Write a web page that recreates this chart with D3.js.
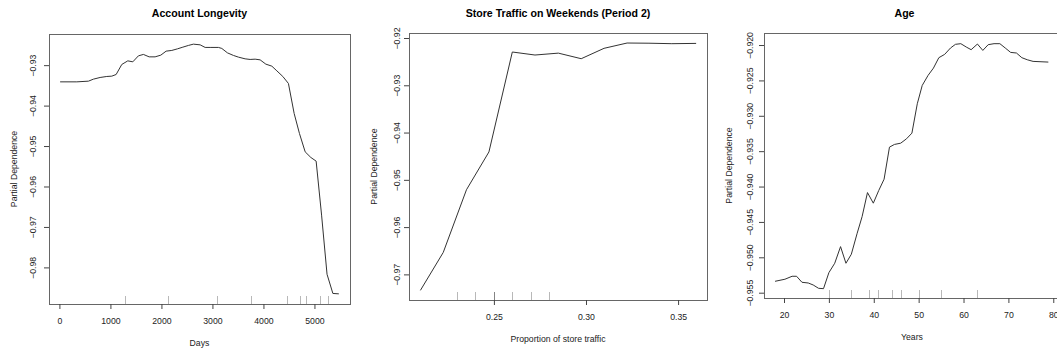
<!DOCTYPE html>
<html lang="en">
<head>
    <meta charset="UTF-8">
    <title>Partial Dependence</title>
    <script src="https://cdn.jsdelivr.net/npm/d3@7"></script>
    <style>
        body { margin: 0; background: #fff; }
        text { font-family: "Liberation Sans", Arial, sans-serif; fill: #222; }
        .title { font-weight: bold; font-size: 10.6px; fill: #000; }
    </style>
</head>
<body>
    <div id="chart-space"></div>

    <script>
        // Account Longevity
        var days = [14, 341, 569, 667, 798, 929, 1027, 1112, 1223, 1341, 1439, 1549, 1647, 1759, 1876, 1988,
            2092, 2204, 2314, 2420, 2529, 2627, 2759, 2857, 2955, 3118, 3184, 3294, 3412, 3510, 3641, 3739,
            3837, 3935, 4047, 4165, 4263, 4380, 4490, 4602, 4706, 4818, 4929, 5033, 5140, 5247, 5361, 5478];
        var pdDays = [-0.93413, -0.93413, -0.93396, -0.93346, -0.93305, -0.93280, -0.93272, -0.93231, -0.92983,
            -0.92894, -0.92918, -0.92770, -0.92735, -0.92795, -0.92795, -0.92753, -0.92654, -0.92636, -0.92597,
            -0.92555, -0.92513, -0.92481, -0.92498, -0.92562, -0.92562, -0.92562, -0.92587, -0.92696, -0.92760,
            -0.92802, -0.92844, -0.92859, -0.92852, -0.92869, -0.92975, -0.93025, -0.93141, -0.93280, -0.93453,
            -0.94194, -0.94689, -0.95143, -0.95282, -0.95373, -0.96708, -0.98170, -0.98644, -0.98654];
        var rugDays = [1294, 2137, 3086, 3753, 4459, 4714, 4843, 5106, 5275];
        var xTicksDays = [0, 1000, 2000, 3000, 4000, 5000];
        var yTicksDays = [-0.98, -0.97, -0.96, -0.95, -0.94, -0.93];

        // Store traffic on weekends
        var traffic = [0.2101, 0.2225, 0.2351, 0.2473, 0.2600, 0.2723, 0.2850, 0.2974, 0.3098, 0.3223, 0.3342, 0.3466, 0.3598];
        var pdTraffic = [-0.97338, -0.96535, -0.95210, -0.94410, -0.92296, -0.92360, -0.92320, -0.92438, -0.92218,
            -0.92106, -0.92110, -0.92120, -0.92114];
        var rugTraffic = [0.23, 0.24, 0.25, 0.25, 0.26, 0.27, 0.28];
        var xTicksTraffic = [0.25, 0.30, 0.35];
        var yTicksTraffic = [-0.97, -0.96, -0.95, -0.94, -0.93, -0.92];

        // Age
        var ages = [18.0, 20.2, 21.8, 22.8, 24.0, 25.4, 26.5, 27.7, 28.8, 30.0, 31.3, 32.6, 33.8, 35.0, 36.3, 37.4,
            38.6, 39.9, 41.1, 42.3, 43.5, 44.6, 46.0, 47.3, 48.5, 49.7, 50.8, 52.1, 53.3, 54.5, 55.8, 57.1,
            58.2, 59.4, 60.6, 61.7, 63.1, 64.3, 65.5, 66.8, 68.1, 69.3, 70.5, 71.8, 73.0, 74.2, 75.5, 78.9];
        var pdAge = [-0.95339, -0.95310, -0.95268, -0.95268, -0.95353, -0.95363, -0.95391, -0.95438, -0.95443,
            -0.95217, -0.95084, -0.94849, -0.95084, -0.94957, -0.94660, -0.94425, -0.94085, -0.94235, -0.94057,
            -0.93896, -0.93443, -0.93405, -0.93387, -0.93325, -0.93245, -0.92830, -0.92571, -0.92429, -0.92326,
            -0.92179, -0.92132, -0.92042, -0.91990, -0.91981, -0.92028, -0.92066, -0.91986, -0.92076, -0.91995,
            -0.91981, -0.91981, -0.92042, -0.92104, -0.92113, -0.92179, -0.92208, -0.92231, -0.92241];
        var rugAge = [30, 35, 39, 41, 44, 46, 50, 55, 63];
        var xTicksAge = [20, 30, 40, 50, 60, 70, 80];
        var yTicksAge = [-0.955, -0.950, -0.945, -0.940, -0.935, -0.930, -0.925, -0.920];

        var width = 1057;
        var height = 354;

        var panels = [
            {title: "Account Longevity", xLabel: "Days", x: days, y: pdDays, rug: rugDays,
             xTicks: xTicksDays, yTicks: yTicksDays, xFmt: d3.format("d"), yFmt: d3.format(".2f"),
             box: {left: 49, right: 350, top: 34, bottom: 304},
             xDomain: [-204, 5697], yDomain: [-0.98905, -0.92230], yLabelOff: 12.6, titleDx: 0},
            {title: "Store Traffic on Weekends (Period 2)", xLabel: "Proportion of store traffic", x: traffic, y: pdTraffic, rug: rugTraffic,
             xTicks: xTicksTraffic, yTicks: yTicksTraffic, xFmt: d3.format(".2f"), yFmt: d3.format(".2f"),
             box: {left: 409, right: 707, top: 33, bottom: 300},
             xDomain: [0.2039, 0.3657], yDomain: [-0.97542, -0.91894], yLabelOff: 9.5, titleDx: 0},
            {title: "Age", xLabel: "Years", x: ages, y: pdAge, rug: rugAge,
             xTicks: xTicksAge, yTicks: yTicksAge, xFmt: d3.format("d"), yFmt: d3.format(".3f"),
             box: {left: 764, right: 1060, top: 33, bottom: 298},
             xDomain: [15.54, 81.5], yDomain: [-0.95575, -0.9183], yLabelOff: 11.2, titleDx: -7.5}
        ];

        var svg = d3.select("#chart-space")
            .append("svg")
            .attr("width", width)
            .attr("height", height)
            .style("display", "block");

        panels.forEach(drawPanel);

        function drawPanel(p) {
            var w = p.box.right - p.box.left;
            var h = p.box.bottom - p.box.top;

            var g = svg.append("g")
                .attr("transform", "translate(" + p.box.left + "," + p.box.top + ")");

            var xScale = d3.scaleLinear().domain(p.xDomain).range([0, w]);
            var yScale = d3.scaleLinear().domain(p.yDomain).range([h, 0]);

            // rug of deciles
            g.selectAll(".rug")
                .data(p.rug)
                .join("line")
                .attr("class", "rug")
                .attr("x1", function(d) { return Math.round(xScale(d)) + 0.5; })
                .attr("x2", function(d) { return Math.round(xScale(d)) + 0.5; })
                .attr("y1", h)
                .attr("y2", h - 8)
                .attr("stroke", "#000")
                .attr("stroke-opacity", 0.28)
                .attr("stroke-width", 1);

            // box
            g.append("rect")
                .attr("x", 0.5)
                .attr("y", 0.5)
                .attr("width", w)
                .attr("height", h)
                .attr("fill", "none")
                .attr("stroke", "#666")
                .attr("stroke-width", 1);

            var line = d3.line()
                .x(function(d, i) { return xScale(p.x[i]); })
                .y(function(d) { return yScale(d); });

            g.append("path")
                .datum(p.y)
                .attr("d", line)
                .attr("fill", "none")
                .attr("stroke", "#333")
                .attr("stroke-width", 1);

            var xAxis = g.append("g")
                .attr("transform", "translate(0," + h + ")")
                .call(d3.axisBottom(xScale).tickValues(p.xTicks).tickFormat(p.xFmt).tickSize(5).tickPadding(6));

            var yAxis = g.append("g")
                .call(d3.axisLeft(yScale).tickValues(p.yTicks).tickFormat(p.yFmt).tickSize(5));

            [xAxis, yAxis].forEach(function(a) {
                a.select(".domain").remove();
                a.selectAll(".tick line").attr("stroke", "#444");
                a.selectAll("text")
                    .attr("fill", "#222")
                    .style("font-family", "'Liberation Sans', Arial, sans-serif")
                    .style("font-size", "8.7px");
            });

            xAxis.selectAll("text").attr("y", 14).attr("dy", "0.71em");

            yAxis.selectAll("text")
                .attr("x", 0)
                .attr("y", -p.yLabelOff)
                .attr("dy", 0)
                .attr("text-anchor", "middle")
                .attr("transform", "rotate(-90)");

            svg.append("text")
                .attr("class", "title")
                .attr("x", (p.box.left + p.box.right) / 2 + p.titleDx)
                .attr("y", 17.3)
                .attr("text-anchor", "middle")
                .text(p.title);

            svg.append("text")
                .attr("x", (p.box.left + p.box.right) / 2)
                .attr("y", p.box.bottom + 41.5)
                .attr("text-anchor", "middle")
                .style("font-size", "8.7px")
                .text(p.xLabel);

            svg.append("text")
                .attr("transform", "translate(" + (p.box.left - 32.5) + "," + (p.box.top + p.box.bottom) / 2 + ") rotate(-90)")
                .attr("text-anchor", "middle")
                .style("font-size", "8.7px")
                .text("Partial Dependence");
        }
    </script>
</body>
</html>
